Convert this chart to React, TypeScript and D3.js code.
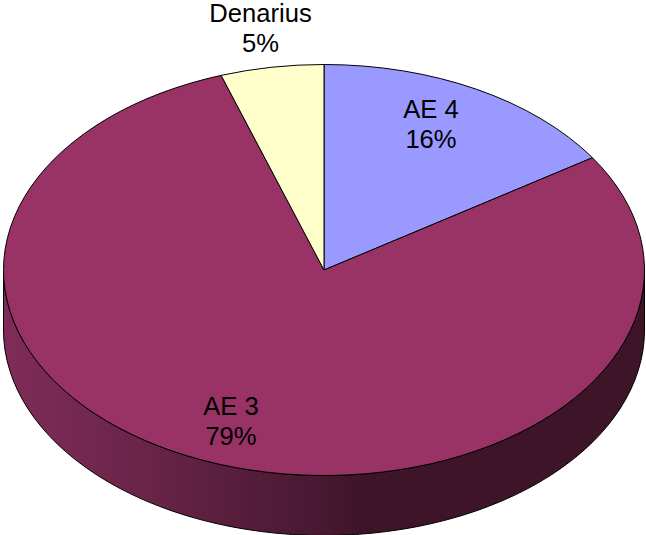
import React, { useMemo } from "react";
import * as d3 from "d3";

const categories = ["AE 4", "AE 3", "Denarius"];
const values = [15.8, 79, 5.2];
const sliceColors = ["#9999FF", "#993366", "#FFFFCC"];
const wallStops: [number, string][] = [
  [0, "#7F2C58"],
  [0.12, "#732850"],
  [0.23, "#692447"],
  [0.37, "#571D3B"],
  [0.48, "#4A1933"],
  [0.57, "#3D1428"],
  [1, "#3D1428"],
];
const labelOffsets = [
  { x: 431, y: 118 },
  { x: 231, y: 415 },
  { x: 260.5, y: 22 },
];

const W = 646;
const H = 535;
const cx = 324;
const cy = 270;
const rx = 320.5;
const ry = 205.5;
const depth = 60;
const font = "'Liberation Sans', Arial, sans-serif";
const fontSize = 25.6;

export default function App() {
  const arcs = useMemo(
    () => d3.pie<number>().sort(null).value((d) => d)(values),
    []
  );
  const arcGen = d3
    .arc<d3.PieArcDatum<number>>()
    .innerRadius(0)
    .outerRadius(rx);
  const total = d3.sum(values);
  const wall = `M${cx - rx},${cy} A${rx},${ry} 0 0 0 ${cx + rx},${cy} L${cx + rx},${cy + depth} A${rx},${ry} 0 0 1 ${cx - rx},${cy + depth} Z`;

  return (
    <svg
      width={W}
      height={H}
      viewBox={`0 0 ${W} ${H}`}
      style={{ position: "absolute", left: 0, top: 0, background: "#fff" }}
    >
      <defs>
        <linearGradient id="wall" gradientUnits="userSpaceOnUse" x1={cx - rx} x2={cx + rx} y1={0} y2={0}>
          {wallStops.map(([o, c]) => (
            <stop key={o} offset={o} stopColor={c} />
          ))}
        </linearGradient>
      </defs>
      <path d={wall} fill="url(#wall)" stroke="#000" strokeWidth={1} />
      <g transform={`translate(${cx},${cy}) scale(1,${ry / rx})`}>
        {arcs.map((a, i) => (
          <path
            key={categories[i]}
            d={arcGen(a) as string}
            fill={sliceColors[i]}
            stroke="#000"
            strokeWidth={1}
            vectorEffect="non-scaling-stroke"
          />
        ))}
      </g>
      {categories.map((c, i) => (
        <text
          key={c}
          textAnchor="middle"
          fontFamily={font}
          fontSize={fontSize}
          fill="#000"
          x={labelOffsets[i].x}
          y={labelOffsets[i].y}
        >
          <tspan x={labelOffsets[i].x}>{c}</tspan>
          <tspan x={labelOffsets[i].x} dy={30}>
            {Math.round((values[i] / total) * 100)}%
          </tspan>
        </text>
      ))}
    </svg>
  );
}
